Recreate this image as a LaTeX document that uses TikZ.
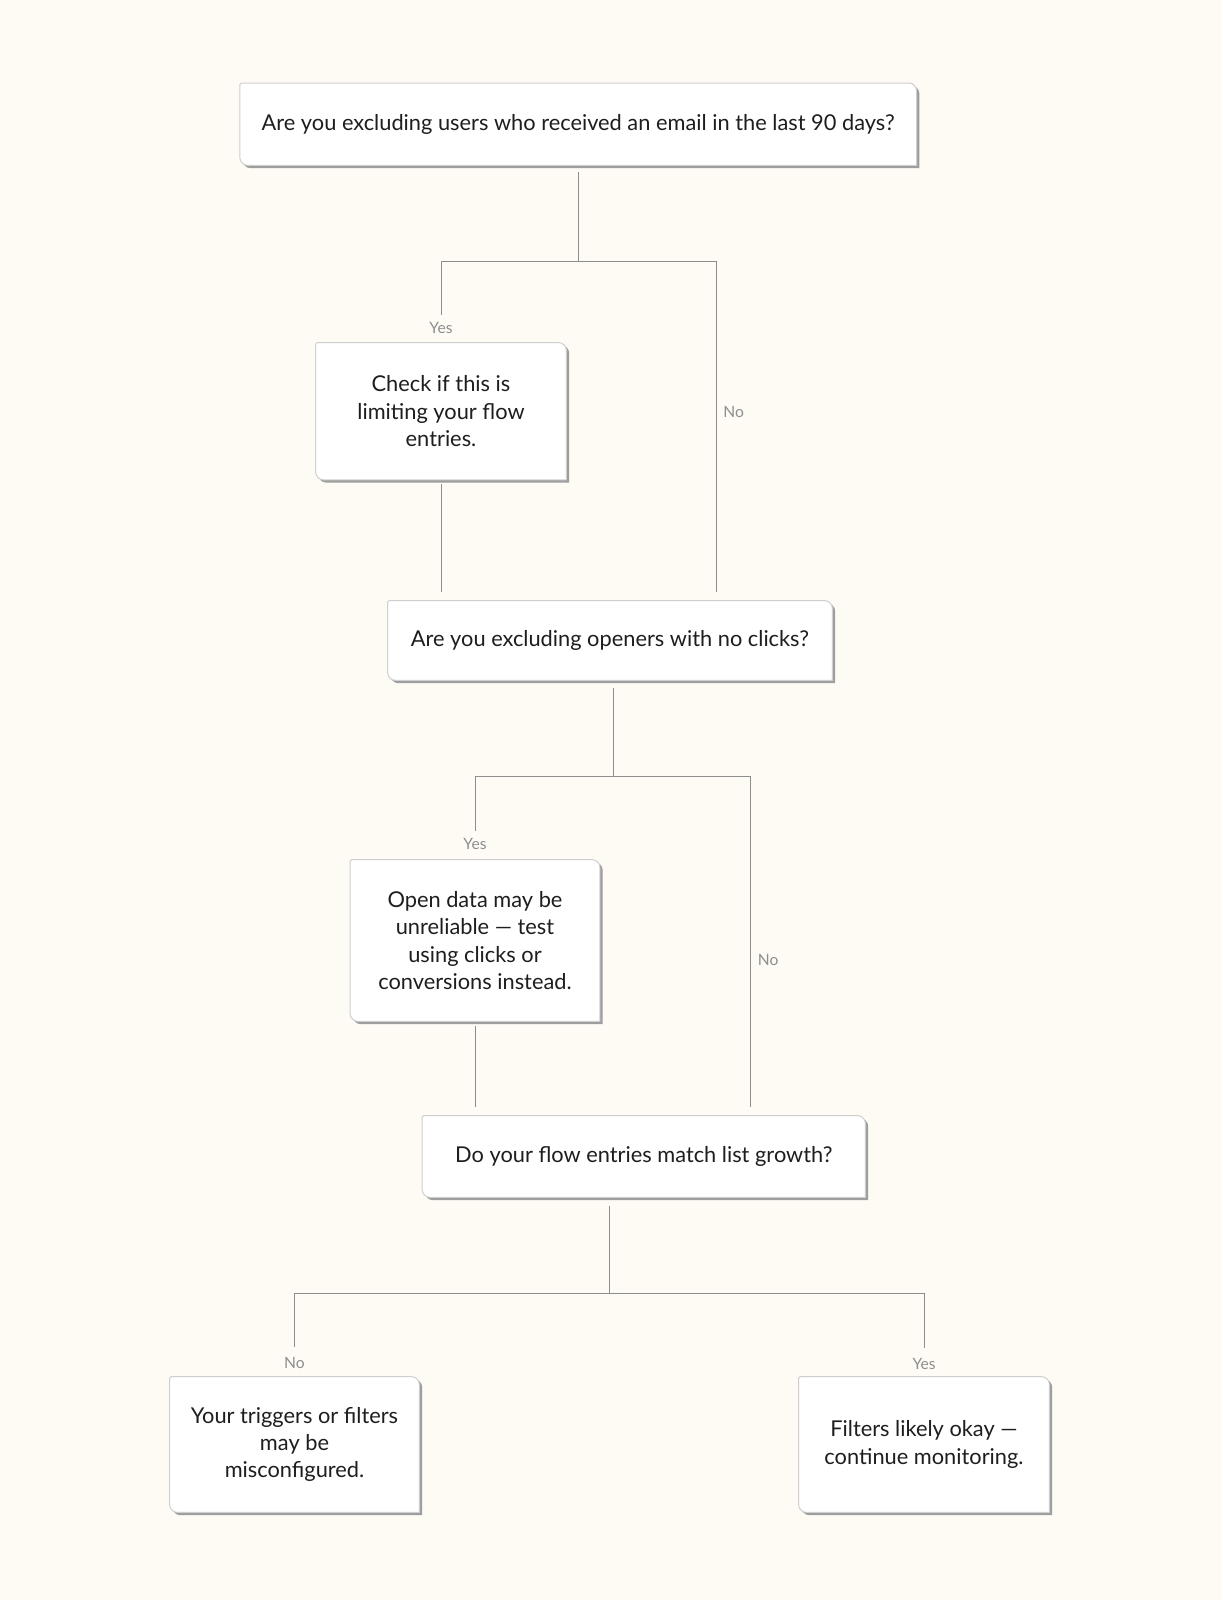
\documentclass[tikz,border=0pt]{standalone}
\usepackage{fontspec}
\setmainfont{Lato}
\usetikzlibrary{calc,backgrounds}

\definecolor{paper}{HTML}{FDFBF4}
\definecolor{edgegray}{HTML}{CFCFCF}
\definecolor{shadowgray}{HTML}{9E9E9E}
\definecolor{linkgray}{HTML}{8E8E8E}
\definecolor{inkgray}{HTML}{1E1E1E}

% card outline: tight top left corner, round top right and bottom left
\newcommand{\cardpath}[3]{($(#1.north west)+(#2,#3-0.8pt)$) arc[start angle=180,end angle=90,radius=0.8pt] -- ($(#1.north east)+(#2-4pt,#3)$) arc[start angle=90,end angle=0,radius=4pt] -- ($(#1.south east)+(#2,#3)$) -- ($(#1.south west)+(#2+4pt,#3)$) arc[start angle=270,end angle=180,radius=4pt] -- cycle}

\tikzset{
  card/.style={inner sep=0pt, align=center, text=inkgray, font=\fontsize{10.9}{13.7}\selectfont},
  link/.style={draw=linkgray, line width=0.5pt},
  answer/.style={text=linkgray, font=\fontsize{7.8}{9}\selectfont, inner sep=0pt},
}

\begin{document}
\begin{tikzpicture}[x=1pt, y=1pt]
		\useasboundingbox (0,0) rectangle (611,800);
		
		% Questions and answers
		\node[card, minimum width=338pt, minimum height=40.75pt] (q1) at (289.1,737.9) {Are you excluding users who received an email in the last 90 days?};
		\node[card, minimum width=125pt, minimum height=68.25pt] (c1) at (220.5,594.4) {Check if this is\\limiting your flow\\entries.};
		\node[card, minimum width=222pt, minimum height=39.5pt] (q2) at (305,479.75) {Are you excluding openers with no clicks?};
		\node[card, minimum width=124.5pt, minimum height=80.5pt] (c2) at (237.5,329.75) {Open data may be\\unreliable — test\\using clicks or\\conversions instead.};
		\node[card, minimum width=221.2pt, minimum height=40.5pt] (q3) at (321.9,221.75) {Do your flow entries match list growth?};
		\node[card, minimum width=124.5pt, minimum height=67.5pt] (r1) at (147.25,77.75) {Your triggers or filters\\may be\\misconfigured.};
		\node[card, minimum width=125pt, minimum height=67.5pt] (r2) at (462,77.75) {Filters likely okay —\\continue monitoring.};
		
		% Junctions
		\coordinate (j1) at (289.25,669);
		\coordinate (j1no) at (358,669);
		\coordinate (j2) at (306.5,411.5);
		\coordinate (j2no) at (375.25,411.5);
		\coordinate (j3) at (304.9,153);
		\coordinate (j3yes) at (462,153);
		
		% First question
		\draw[link, shorten <=3.5pt, shorten >=13.75pt] (j1 |- q1.south) -- (j1) -| (c1.north);
		\draw[link, shorten <=3.5pt, shorten >=4.5pt] (j1 |- q1.south) -- (j1) -| (j1no |- q2.north);
		\draw[link, shorten <=2.25pt, shorten >=4.5pt] (c1.south) -- (c1.south |- q2.north);
		\node[answer] (yes1) at ($(c1.north)+(0,7.5)$) {Yes};
		\node[answer, anchor=west] (no1) at ($(j1no)+(3.5,-75)$) {No};
		
		% Second question
		\draw[link, shorten <=4pt, shorten >=14.5pt] (j2 |- q2.south) -- (j2) -| (c2.north);
		\draw[link, shorten <=4pt, shorten >=4.5pt] (j2 |- q2.south) -- (j2) -| (j2no |- q3.north);
		\draw[link, shorten <=2.5pt, shorten >=4.5pt] (c2.south) -- (c2.south |- q3.north);
		\node[answer] (yes2) at ($(c2.north)+(0,8)$) {Yes};
		\node[answer, anchor=west] (no2) at ($(j2no)+(3.5,-91.5)$) {No};
		
		% Third question
		\draw[link, shorten <=4.5pt, shorten >=15pt] (j3 |- q3.south) -- (j3) -| (r1.north);
		\draw[link, shorten <=4.5pt, shorten >=14.5pt] (j3 |- q3.south) -- (j3) -| (j3yes |- r2.north);
		\node[answer] (no3) at ($(r1.north)+(0,7)$) {No};
		\node[answer] (yes3) at ($(r2.north)+(0,6.5)$) {Yes};
		
		% Paper, shadows and card outlines
		\begin{scope}[on background layer]
		\fill[paper] (0,0) rectangle (611,800);
		\foreach \n in {q1,c1,q2,c2,q3,r1,r2} {
			\fill[shadowgray] \cardpath{\n}{1.4pt}{-1.4pt};
			\filldraw[fill=white, draw=edgegray, line width=0.5pt] \cardpath{\n}{0pt}{0pt};
		}
		\end{scope}
\end{tikzpicture}
\end{document}
